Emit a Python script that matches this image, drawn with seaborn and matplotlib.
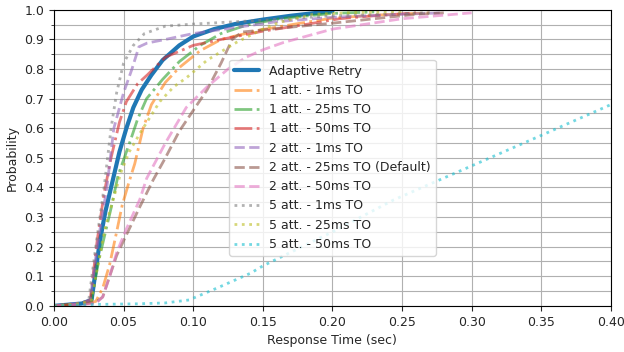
import numpy as np
import pandas as pd
import matplotlib
matplotlib.use('Agg')
import matplotlib.pyplot as plt
from matplotlib.ticker import MultipleLocator
import seaborn as sns

# CDF curves (x = response time in sec, y = probability)
adaptive_x = [0, 0.02, 0.027, 0.03, 0.033, 0.037, 0.042, 0.047, 0.052, 0.057, 0.063, 0.07, 0.078, 0.09, 0.1, 0.115, 0.13, 0.15, 0.17, 0.185, 0.2]
adaptive_y = [0, 0.008, 0.02, 0.12, 0.22, 0.32, 0.42, 0.52, 0.6, 0.67, 0.73, 0.78, 0.83, 0.88, 0.91, 0.935, 0.952, 0.967, 0.98, 0.988, 0.995]

a1_1ms_x = [0, 0.02, 0.03, 0.035, 0.04, 0.045, 0.049, 0.054, 0.058, 0.064, 0.07, 0.08, 0.09, 0.105, 0.12, 0.148, 0.177, 0.2, 0.23, 0.27]
a1_1ms_y = [0, 0.005, 0.015, 0.06, 0.14, 0.25, 0.34, 0.42, 0.48, 0.6, 0.68, 0.755, 0.805, 0.862, 0.9, 0.932, 0.955, 0.972, 0.982, 0.99]

a1_25ms_x = [0, 0.02, 0.027, 0.032, 0.037, 0.041, 0.046, 0.055, 0.06, 0.0665, 0.078, 0.09, 0.105, 0.12, 0.138, 0.162, 0.2, 0.23]
a1_25ms_y = [0, 0.008, 0.02, 0.15, 0.25, 0.33, 0.44, 0.56, 0.63, 0.7, 0.765, 0.825, 0.88, 0.92, 0.948, 0.97, 0.988, 0.993]

a1_50ms_x = [0, 0.02, 0.026, 0.031, 0.036, 0.041, 0.047, 0.052, 0.06, 0.067, 0.08, 0.09, 0.1, 0.12, 0.15, 0.18, 0.205, 0.23, 0.26]
a1_50ms_y = [0, 0.008, 0.02, 0.22, 0.38, 0.5, 0.62, 0.69, 0.75, 0.78, 0.84, 0.86, 0.88, 0.9, 0.928, 0.95, 0.97, 0.98, 0.99]

a2_1ms_x = [0, 0.02, 0.026, 0.031, 0.038, 0.043, 0.05, 0.056, 0.061, 0.067, 0.08, 0.1, 0.13, 0.16, 0.2, 0.25, 0.28]
a2_1ms_y = [0, 0.01, 0.02, 0.2, 0.4, 0.6, 0.72, 0.8, 0.875, 0.888, 0.9, 0.92, 0.94, 0.96, 0.975, 0.985, 0.99]

a2_25ms_x = [0, 0.02, 0.03, 0.035, 0.04, 0.045, 0.05, 0.0617, 0.0713, 0.08, 0.09, 0.1, 0.11, 0.12, 0.128, 0.135, 0.16, 0.2, 0.23, 0.26, 0.28]
a2_25ms_y = [0, 0.005, 0.012, 0.03, 0.1, 0.17, 0.22, 0.335, 0.426, 0.5, 0.59, 0.66, 0.73, 0.82, 0.9, 0.925, 0.937, 0.955, 0.97, 0.985, 0.99]

a2_50ms_x = [0, 0.02, 0.03, 0.035, 0.04, 0.045, 0.052, 0.0617, 0.0665, 0.08, 0.095, 0.11, 0.125, 0.138, 0.15, 0.165, 0.2, 0.25, 0.3]
a2_50ms_y = [0, 0.005, 0.008, 0.03, 0.1, 0.18, 0.26, 0.36, 0.43, 0.55, 0.67, 0.74, 0.8, 0.84, 0.865, 0.89, 0.935, 0.97, 0.99]

a5_1ms_x = [0, 0.02, 0.025, 0.03, 0.036, 0.041, 0.045, 0.05, 0.057, 0.065, 0.08, 0.1, 0.15, 0.2, 0.27]
a5_1ms_y = [0, 0.01, 0.02, 0.2, 0.4, 0.6, 0.72, 0.82, 0.88, 0.92, 0.945, 0.952, 0.965, 0.98, 0.99]

a5_25ms_x = [0, 0.02, 0.027, 0.032, 0.037, 0.042, 0.048, 0.054, 0.062, 0.068, 0.076, 0.086, 0.095, 0.11, 0.131, 0.15, 0.162, 0.186, 0.21, 0.25]
a5_25ms_y = [0, 0.008, 0.02, 0.15, 0.27, 0.35, 0.45, 0.52, 0.585, 0.63, 0.69, 0.74, 0.77, 0.83, 0.89, 0.935, 0.958, 0.985, 0.99, 0.995]

a5_50ms_x = [0, 0.03, 0.06, 0.08, 0.097, 0.117, 0.141, 0.15, 0.2, 0.244, 0.3, 0.35, 0.4]
a5_50ms_y = [0, 0.005, 0.007, 0.01, 0.02, 0.06, 0.11, 0.135, 0.25, 0.358, 0.473, 0.576, 0.68]

labels = ['Adaptive Retry', '1 att. - 1ms TO', '1 att. - 25ms TO', '1 att. - 50ms TO',
          '2 att. - 1ms TO', '2 att. - 25ms TO (Default)', '2 att. - 50ms TO',
          '5 att. - 1ms TO', '5 att. - 25ms TO', '5 att. - 50ms TO']
xs = [adaptive_x, a1_1ms_x, a1_25ms_x, a1_50ms_x, a2_1ms_x, a2_25ms_x, a2_50ms_x, a5_1ms_x, a5_25ms_x, a5_50ms_x]
ys = [adaptive_y, a1_1ms_y, a1_25ms_y, a1_50ms_y, a2_1ms_y, a2_25ms_y, a2_50ms_y, a5_1ms_y, a5_25ms_y, a5_50ms_y]
styles = ['-', '-.', '-.', '-.', '--', '--', '--', ':', ':', ':']

sns.set_style('ticks')
plt.rcParams['font.family'] = ['DejaVu Sans']
plt.rcParams['font.size'] = 9

colors = sns.color_palette('tab10', 10)

fig, ax = plt.subplots(figsize=(6.24, 3.52), dpi=100)
fig.subplots_adjust(left=0.0865, right=0.979, top=0.972, bottom=0.131)

for i in range(len(labels)):
    if i == 0:
        lw, alpha = 3, 1.0
    else:
        lw, alpha = 2, 0.6
    sns.lineplot(x=xs[i], y=ys[i], ax=ax, color=colors[i], linestyle=styles[i],
                 linewidth=lw, alpha=alpha, label=labels[i], sort=False)

ax.set_xlim(0, 0.4)
ax.set_ylim(0, 1.0)
ax.xaxis.set_major_locator(MultipleLocator(0.05))
ax.yaxis.set_major_locator(MultipleLocator(0.1))
ax.yaxis.set_minor_locator(MultipleLocator(0.05))
ax.grid(which='both', color='#b0b0b0', linewidth=0.8)
ax.set_axisbelow(True)
ax.set_xlabel('Response Time (sec)')
ax.set_ylabel('Probability')
for s in ax.spines.values():
    s.set_visible(True)
    s.set_color('black')
ax.legend(loc='center', fontsize=9)

fig.savefig('out.png', dpi=100)
